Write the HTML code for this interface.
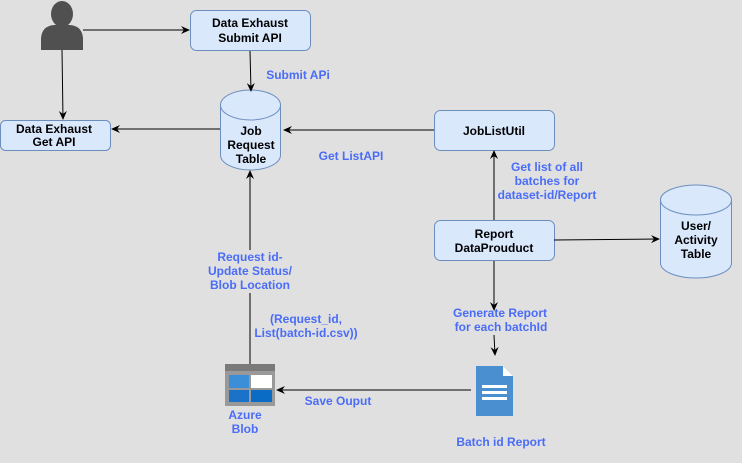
<!DOCTYPE html>
<html><head><style>
html,body{margin:0;padding:0;background:#e0e0e0;}
svg{display:block;font-family:"Liberation Sans",sans-serif;font-weight:bold;}
.b{font-size:12px;fill:#000;text-anchor:middle;}
.l{font-size:12px;fill:#4a6cf7;text-anchor:middle;}
</style></head><body>
<svg width="742" height="463" viewBox="0 0 742 463">
<defs><marker id="a" markerWidth="10" markerHeight="10" refX="8" refY="5" orient="auto" markerUnits="userSpaceOnUse"><path d="M0,1 L9,5 L0,9 L3,5z" fill="#000"/></marker></defs>
<rect width="742" height="463" fill="#e0e0e0"/>
<g fill="#505050"><ellipse cx="62" cy="14" rx="11" ry="13"/><path d="M41,50 L41,38 Q42,26 54,25 L70,25 Q82,26 83,38 L83,50 z"/></g>
<g fill="#dae8fc" stroke="#6c8ebf" stroke-width="1">
<rect x="190.5" y="10.5" width="120" height="40" rx="6"/>
<rect x="0.5" y="120.5" width="110" height="30" rx="5"/>
<rect x="434.5" y="110.5" width="120" height="40" rx="6"/>
<rect x="434.5" y="220.5" width="120" height="40" rx="6"/>
<path d="M220.5,105 A30,15 0 0 1 280.5,105 L280.5,155 A30,15 0 0 1 220.5,155 Z"/>
<path d="M220.5,105 A30,15 0 0 0 280.5,105" fill="none"/>
<path d="M660.5,200 A35.5,15 0 0 1 731.5,200 L731.5,263 A35.5,15 0 0 1 660.5,263 Z"/>
<path d="M660.5,200 A35.5,15 0 0 0 731.5,200" fill="none"/>
</g>
<text class="b" x="250" y="27">Data Exhaust</text><text class="b" x="250" y="42">Submit API</text>
<text class="b" x="54" y="133">Data Exhaust</text><text class="b" x="54" y="146">Get API</text>
<text class="b" x="251" y="135">Job</text><text class="b" x="251" y="149">Request</text><text class="b" x="251" y="163">Table</text>
<text class="b" x="494" y="135">JobListUtil</text>
<text class="b" x="494" y="238">Report</text><text class="b" x="494" y="252">DataProuduct</text>
<text class="b" x="696" y="230">User/</text><text class="b" x="696" y="244">Activity</text><text class="b" x="696" y="258">Table</text>
<g stroke="#000" stroke-width="1" fill="none" marker-end="url(#a)">
<path d="M83,30 L189,30"/>
<path d="M62,50 L63,119"/>
<path d="M250,51 L251,91"/>
<path d="M220,129 L112,129"/>
<path d="M434,130 L284,130"/>
<path d="M494,220 L494,151"/>
<path d="M554,240 L659,239"/>
<path d="M494,261 L494,310"/>
<path d="M494,335 L495,355"/>
<path d="M250,364 L250,171"/>
<path d="M471,390 L277,390"/>
</g>
<rect x="206" y="250" width="88" height="43" fill="#e0e0e0"/>
<rect x="225" y="364" width="50" height="42" fill="#999"/>
<rect x="225" y="364" width="50" height="7" fill="#7a7a7a"/>
<rect x="229" y="375" width="20" height="13" fill="#3a8fd8"/><rect x="251" y="375" width="21" height="13" fill="#fff"/>
<rect x="229" y="390" width="20" height="12" fill="#1a73c8"/><rect x="251" y="390" width="21" height="12" fill="#0a6cc4"/>
<path d="M476,366 L503,366 L513,376 L513,416 L476,416 Z" fill="#4a90d0"/>
<path d="M503,366 L513,376 L503,376 Z" fill="#fff"/>
<g fill="#fff"><rect x="482" y="385" width="25" height="3"/><rect x="482" y="391" width="25" height="3"/><rect x="482" y="397" width="25" height="3"/></g>
<text class="l" x="298" y="79">Submit APi</text>
<text class="l" x="351" y="160">Get ListAPI</text>
<text class="l" x="547" y="171">Get list of all</text><text class="l" x="547" y="185">batches for</text><text class="l" x="547" y="199">dataset-id/Report</text>
<text class="l" x="500" y="317">Generate Report</text><text class="l" x="501" y="331">for each batchId</text>
<text class="l" x="250" y="261">Request id-</text><text class="l" x="250" y="275">Update Status/</text><text class="l" x="250" y="289">Blob Location</text>
<text class="l" x="306" y="323">(Request_id,</text><text class="l" x="306" y="337">List(batch-id.csv))</text>
<text class="l" x="338" y="405">Save Ouput</text>
<text class="l" x="245" y="419">Azure</text><text class="l" x="245" y="433">Blob</text>
<text class="l" x="501" y="446">Batch id Report</text>
</svg>
</body></html>
